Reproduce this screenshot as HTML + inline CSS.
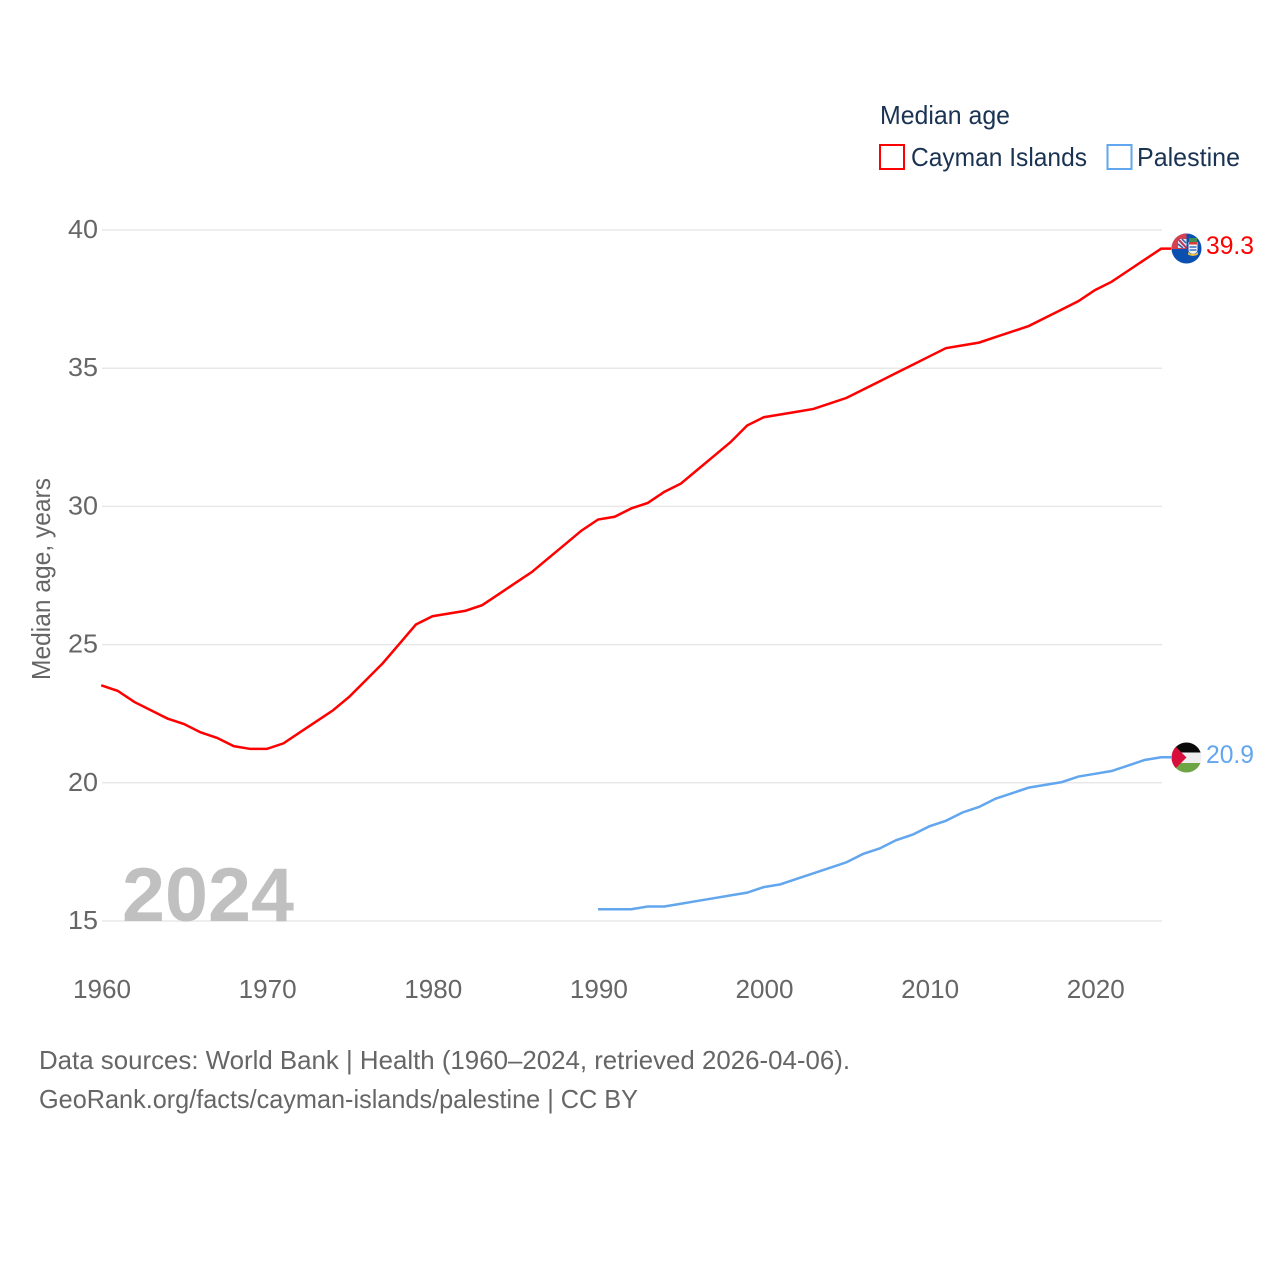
<!DOCTYPE html>
<html lang="en">
<head>
<meta charset="utf-8">
<title>Median age: Cayman Islands and Palestine</title>
<style>
html,body{margin:0;padding:0;background:#fff;}
svg{display:block;}
text{font-family:"Liberation Sans",sans-serif;}
</style>
</head>
<body>
<svg id="chart" xmlns="http://www.w3.org/2000/svg" width="1280" height="1280" viewBox="0 0 1280 1280">
  <rect x="0" y="0" width="1280" height="1280" fill="#fff"/>
  <g id="grid"></g>
  <g id="yticks"></g>
  <g id="xticks"></g>
  <text transform="translate(50,579) rotate(-90)" text-anchor="middle" font-size="26" fill="#666" textLength="202" lengthAdjust="spacingAndGlyphs">Median age, years</text>
  <text x="122" y="921" font-size="76" font-weight="700" fill="#c0c0c0" textLength="172" lengthAdjust="spacingAndGlyphs">2024</text>
  <g id="series" transform="translate(-0.8,-0.7)"></g>

  <defs>
    <clipPath id="clip-ky"><circle cx="1186.5" cy="248.5" r="15"/></clipPath>
    <clipPath id="clip-ps"><circle cx="1186.5" cy="757.5" r="15"/></clipPath>
  </defs>
  <g clip-path="url(#clip-ky)">
    <rect x="1171" y="233" width="31" height="31" fill="#0b50b0"/>
    <rect x="1171" y="233" width="15.5" height="16" fill="#d8404e"/>
    <rect x="1178" y="239" width="8.500" height="9" fill="#e4e4ee"/>
    <path d="M1178 239l8.500 9" stroke="#c03050" stroke-width="2"/>
    <path d="M1178 244l5 4M1182 239l4 4" stroke="#3a5aa8" stroke-width="1.500"/>
    <rect x="1189" y="238" width="8" height="4" fill="#3f8f50"/>
    <path d="M1188.500 242h9v8q0 3-4.500 4-4.500-1-4.500-4z" fill="#f2f2f2"/>
    <path d="M1189 242h8v2.500h-8z" fill="#d83a3a"/>
    <path d="M1189.500 247h7M1189.500 250h7" stroke="#3a70c0" stroke-width="1.500"/>
    <path d="M1188 252q5 4 10 0v2.500q-5 3-10 0z" fill="#e8c040"/>
  </g>
  <g clip-path="url(#clip-ps)">
    <rect x="1171" y="742" width="31" height="10.500" fill="#0a0a0a"/>
    <rect x="1171" y="752.500" width="31" height="10.500" fill="#eeeeee"/>
    <rect x="1171" y="763" width="31" height="11" fill="#6da544"/>
    <path d="M1171 742l15.500 15.500-15.500 15.500z" fill="#d80f3c"/>
  </g>

  <text x="1206" y="254" font-size="25" fill="#ff0000" textLength="48" lengthAdjust="spacingAndGlyphs">39.3</text>
  <text x="1206" y="763" font-size="25" fill="#62a6ee" textLength="48" lengthAdjust="spacingAndGlyphs">20.9</text>

  <g>
    <text x="880" y="124" font-size="26" fill="#1a3353" textLength="130" lengthAdjust="spacingAndGlyphs">Median age</text>
    <rect x="880" y="145" width="24" height="24" fill="none" stroke="#ff0000" stroke-width="2"/>
    <text x="911" y="166" font-size="26" fill="#1a3353" textLength="176" lengthAdjust="spacingAndGlyphs">Cayman Islands</text>
    <rect x="1107.500" y="145" width="24" height="24" fill="none" stroke="#62a6ee" stroke-width="2"/>
    <text x="1137" y="166" font-size="26" fill="#1a3353" textLength="103" lengthAdjust="spacingAndGlyphs">Palestine</text>
  </g>

  <text x="39" y="1069" font-size="26" fill="#666" textLength="811" lengthAdjust="spacingAndGlyphs">Data sources: World Bank | Health (1960–2024, retrieved 2026-04-06).</text>
  <text x="39" y="1108" font-size="26" fill="#666" textLength="599" lengthAdjust="spacingAndGlyphs">GeoRank.org/facts/cayman-islands/palestine | CC BY</text>
</svg>
<script>
var yTickValues = [15, 20, 25, 30, 35, 40];
var xTickYears = [1960, 1970, 1980, 1990, 2000, 2010, 2020];
var caymanStartYear = 1960;
var caymanValues = [23.5,23.3,22.9,22.6,22.3,22.1,21.8,21.6,21.3,21.2,21.2,21.4,21.8,22.2,22.6,23.1,23.7,24.3,25.0,25.7,26.0,26.1,26.2,26.4,26.8,27.2,27.6,28.1,28.6,29.1,29.5,29.6,29.9,30.1,30.5,30.8,31.3,31.8,32.3,32.9,33.2,33.3,33.4,33.5,33.7,33.9,34.2,34.5,34.8,35.1,35.4,35.7,35.8,35.9,36.1,36.3,36.5,36.8,37.1,37.4,37.8,38.1,38.5,38.9,39.3];
var palestineStartYear = 1990;
var palestineValues = [15.4,15.4,15.4,15.5,15.5,15.6,15.7,15.8,15.9,16.0,16.2,16.3,16.5,16.7,16.9,17.1,17.4,17.6,17.9,18.1,18.4,18.6,18.9,19.1,19.4,19.6,19.8,19.9,20.0,20.2,20.3,20.4,20.6,20.8,20.9];

var NS = 'http://www.w3.org/2000/svg';
function xScale(year) { return 102 + (year - 1960) * (1162 - 102) / 64; }
function yScale(v) { return 921 - (v - 15) * (921 - 230) / 25; }

var gridGroup = document.getElementById('grid');
var yTickGroup = document.getElementById('yticks');
var xTickGroup = document.getElementById('xticks');
var seriesGroup = document.getElementById('series');

yTickValues.forEach(function (v) {
  var line = document.createElementNS(NS, 'line');
  
  
  line.setAttribute('x1', 102);
  line.setAttribute('x2', 1162);
  line.setAttribute('y1', yScale(v));
  line.setAttribute('y2', yScale(v));
  line.setAttribute('stroke', '#e8e8e8');
  line.setAttribute('stroke-width', 1.5);
  gridGroup.appendChild(line);

  var label = document.createElementNS(NS, 'text');
  
  
  label.setAttribute('x', 98);
  label.setAttribute('y', yScale(v) + 8);
  label.setAttribute('text-anchor', 'end');
  label.setAttribute('font-size', 26);
  label.setAttribute('fill', '#666');
  label.setAttribute('textLength', 30);
  label.setAttribute('lengthAdjust', 'spacingAndGlyphs');
  label.textContent = String(v);
  yTickGroup.appendChild(label);
});

xTickYears.forEach(function (year) {
  var label = document.createElementNS(NS, 'text');
  
  
  label.setAttribute('x', xScale(year));
  label.setAttribute('y', 998);
  label.setAttribute('text-anchor', 'middle');
  label.setAttribute('font-size', 26);
  label.setAttribute('fill', '#666');
  label.setAttribute('textLength', 58);
  label.setAttribute('lengthAdjust', 'spacingAndGlyphs');
  label.textContent = String(year);
  xTickGroup.appendChild(label);
});

function seriesPoints(startYear, values) {
  var pts = values.map(function (v, i) {
    return xScale(startYear + i).toFixed(2) + ',' + yScale(v).toFixed(2);
  });
  pts.push('1172,' + yScale(values[values.length - 1]).toFixed(2));
  return pts.join(' ');
}

var caymanLine = document.createElementNS(NS, 'polyline');


caymanLine.setAttribute('points', seriesPoints(caymanStartYear, caymanValues));
caymanLine.setAttribute('fill', 'none');
caymanLine.setAttribute('stroke', '#ff0000');
caymanLine.setAttribute('stroke-width', 2.5);
seriesGroup.appendChild(caymanLine);

var palestineLine = document.createElementNS(NS, 'polyline');


palestineLine.setAttribute('points', seriesPoints(palestineStartYear, palestineValues));
palestineLine.setAttribute('fill', 'none');
palestineLine.setAttribute('stroke', '#62a6ee');
palestineLine.setAttribute('stroke-width', 2.5);
seriesGroup.appendChild(palestineLine);
</script>
</body>
</html>
